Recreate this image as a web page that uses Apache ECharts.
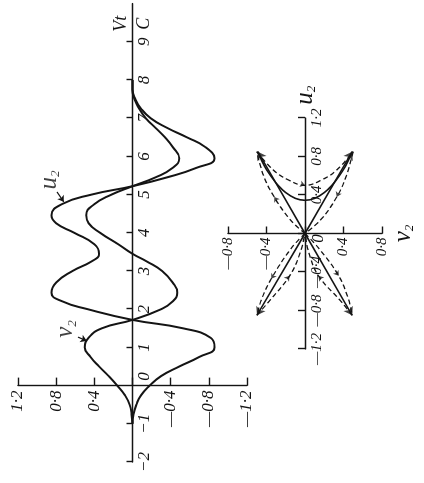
<!DOCTYPE html>
<html>
<head>
<meta charset="utf-8">
<script src="https://cdn.jsdelivr.net/npm/echarts@6/dist/echarts.min.js"></script>
<style>
  html, body { margin: 0; padding: 0; background: #fff; overflow: hidden; }
  #frame { position: absolute; left: 0; top: 0; width: 424px; height: 483px; overflow: hidden; background: #fff; }
  /* the figure is laid out landscape and turned a quarter turn counter-clockwise */
  #chart { position: absolute; left: 0; top: 0; width: 483px; height: 424px;
           transform-origin: 0 0; transform: translate(0, 483px) rotate(-90deg); }
</style>
</head>
<body>
<div id="frame"><div id="chart"></div></div>
<script>
// ---- time response: reduced time Vt/c and the two displacement components ----
const tValues  = [-1.0, -0.75, -0.5, -0.25, 0, 0.25, 0.5, 0.75, 1.0, 1.25, 1.5, 1.72, 2.0, 2.2, 2.43, 2.7, 3.0, 3.25, 3.45, 3.7, 4.0, 4.25, 4.46, 4.75, 5.0, 5.22, 5.45, 5.7, 5.95, 6.25, 6.5, 6.75, 7.0, 7.25, 7.5, 7.75, 8.0];
const u2Values = [0, -0.01, -0.04, -0.09, -0.18, -0.30, -0.49, -0.70, -0.86, -0.82, -0.53, 0, 0.47, 0.73, 0.85, 0.80, 0.63, 0.43, 0.35, 0.40, 0.61, 0.80, 0.85, 0.74, 0.43, 0, -0.36, -0.67, -0.86, -0.76, -0.57, -0.36, -0.19, -0.09, -0.03, 0, 0];
const v2Values = [0, 0.01, 0.03, 0.08, 0.16, 0.25, 0.35, 0.44, 0.50, 0.46, 0.32, 0, -0.30, -0.42, -0.47, -0.42, -0.31, -0.15, 0, 0.15, 0.34, 0.46, 0.485, 0.40, 0.22, 0, -0.24, -0.42, -0.49, -0.42, -0.34, -0.24, -0.14, -0.07, -0.02, 0, 0];

// tick marks and labels of the time axis
const tTicks  = [-2, -1, 1, 2, 3, 4, 5, 6, 7, 8, 9];
const tLabels = [-2, -1, 0, 1, 2, 3, 4, 5, 6, 7, 8, 9];

// ---- trajectory in the (v2, u2) plane, points given as [u2, v2] ----
const solidSpokes = [
  [[0, 0], [-0.85, 0.49]],
  [[0, 0], [0.85, -0.49]],
  [[0, 0], [0.85, 0.49]],
  [[0, 0], [-0.85, -0.50]]
];
const solidLoop = [[0.85, -0.49], [0.70, -0.42], [0.59, -0.35], [0.50, -0.28], [0.425, -0.20], [0.365, -0.10], [0.345, 0],
                   [0.365, 0.10], [0.425, 0.20], [0.50, 0.28], [0.59, 0.35], [0.70, 0.42], [0.85, 0.49]];
const dashedPaths = [
  [[0, 0], [0.15, -0.16], [0.38, -0.32], [0.60, -0.43], [0.85, -0.50]],
  [[0.85, -0.50], [0.66, -0.33], [0.56, -0.18], [0.50, 0], [0.56, 0.18], [0.66, 0.33], [0.85, 0.50]],
  [[0.85, 0.50], [0.60, 0.43], [0.38, 0.33], [0.15, 0.17], [0, 0]],
  [[0, 0], [-0.15, 0.14], [-0.44, 0.35], [-0.68, 0.45], [-0.85, 0.49]],
  [[-0.85, 0.49], [-0.70, 0.37], [-0.44, 0.14], [-0.20, 0.04], [0, 0]],
  [[0, 0], [-0.15, -0.14], [-0.47, -0.35], [-0.68, -0.45], [-0.85, -0.50]],
  [[-0.85, -0.50], [-0.70, -0.37], [-0.44, -0.16], [-0.20, -0.05], [0, 0]]
];

// curve names with their pointer arrows (time-axis data space)
const curveTags = [
  { letter: 'u', at: [5.38, 0.87], from: [5.07, 0.79], to: [4.81, 0.72] },
  { letter: 'v', at: [1.48, 0.70], from: [1.27, 0.57], to: [1.17, 0.48] }
];

// axis ranges
const tRange = [-2, 10], respRange = [-1.2, 1.2];
const phaseURange = [-1.2, 1.2], phaseVRange = [-0.8, 0.8];

const ink = '#141414';
const serif = '"Liberation Serif", "DejaVu Serif", serif';
const tickFont = { color: ink, fontFamily: serif, fontStyle: 'italic', fontSize: 17 };

// two plotting panels
const mainGrid  = { left: 21, top: 18, width: 458.4, height: 229 };
const phaseGrid = { left: 134, top: 228, width: 231, height: 154 };

// distance from the panel edge to the zero line of an axis range
const zeroFromStart = (range, size) => size * (0 - range[0]) / (range[1] - range[0]);

function decimal(v) {
  const s = Math.abs(v).toFixed(1).replace('.', '·');
  return v < -1e-9 ? '—' + s : s;
}
const subRich = {
  i: { fontFamily: serif, fontStyle: 'italic', fontSize: 25, color: ink },
  s: { fontFamily: serif, fontStyle: 'italic', fontSize: 13, color: ink, padding: [13, 0, 0, 0] }
};

const pairs = (xs, ys) => xs.map((x, i) => [x, ys[i]]);

// arrowhead orientation in the inset (equal px per unit on both axes, v axis pointing down)
function arrowAt(p, q, size) {
  const dx = p[0] - q[0];
  const dyScreen = p[1] - q[1];
  const ang = Math.atan2(-dyScreen, dx) * 180 / Math.PI;
  return { value: p, symbol: 'arrow', symbolSize: size, symbolRotate: ang - 90 };
}

const axisLineStyle = { color: ink, width: 1.4 };

const series = [
  {
    name: 'u2', type: 'line', xAxisIndex: 0, yAxisIndex: 0,
    data: pairs(tValues, u2Values), smooth: 0.5,
    symbol: 'none', lineStyle: { color: ink, width: 2 }, z: 5
  },
  {
    name: 'v2', type: 'line', xAxisIndex: 0, yAxisIndex: 0,
    data: pairs(tValues, v2Values), smooth: 0.5,
    symbol: 'none', lineStyle: { color: ink, width: 2 }, z: 5
  },
  {
    type: 'scatter', xAxisIndex: 0, yAxisIndex: 0, symbolSize: 0,
    data: curveTags.map(c => ({ value: c.at })),
    label: {
      show: true, position: 'inside',
      formatter: p => '{i|' + curveTags[p.dataIndex].letter + '}{s|2}',
      rich: subRich
    },
    silent: true
  },
  {
    type: 'lines', coordinateSystem: 'cartesian2d', xAxisIndex: 0, yAxisIndex: 0,
    data: curveTags.map(c => ({ coords: [c.from, c.to] })),
    symbol: ['none', 'arrow'], symbolSize: 6,
    lineStyle: { color: ink, width: 1.2, opacity: 1 }, silent: true
  }
];

solidSpokes.forEach(path => {
  series.push({
    type: 'line', xAxisIndex: 1, yAxisIndex: 1, data: path, symbol: 'none',
    lineStyle: { color: ink, width: 1.6 }, z: 4
  });
});
series.push({
  type: 'line', xAxisIndex: 1, yAxisIndex: 1, data: solidLoop, smooth: 0.4, symbol: 'none',
  lineStyle: { color: ink, width: 1.6 }, z: 4
});
series.push({
  type: 'scatter', xAxisIndex: 1, yAxisIndex: 1,
  data: solidSpokes.map(path => arrowAt(path[path.length - 1], path[path.length - 2], 8)),
  itemStyle: { color: ink }, silent: true, z: 6
});
dashedPaths.forEach(path => {
  series.push({
    type: 'line', xAxisIndex: 1, yAxisIndex: 1, data: path, smooth: 0.4, symbol: 'none',
    lineStyle: { color: ink, width: 1.3, type: [5, 3] }, z: 3
  });
});
series.push({
  type: 'scatter', xAxisIndex: 1, yAxisIndex: 1,
  data: dashedPaths.map(path => {
    const m = Math.floor(path.length / 2);
    return arrowAt(path[m], path[m - 1], 5);
  }),
  itemStyle: { color: ink }, silent: true, z: 6
});

const option = {
  animation: false,
  backgroundColor: '#fff',
  grid: [
    Object.assign({ outerBoundsMode: 'none' }, mainGrid),
    Object.assign({ outerBoundsMode: 'none' }, phaseGrid)
  ],
  xAxis: [
    {
      type: 'value', gridIndex: 0, min: tRange[0], max: tRange[1], position: 'bottom',
      offset: -(mainGrid.height - zeroFromStart(respRange, mainGrid.height)),
      axisLine: { onZero: false, lineStyle: axisLineStyle },
      axisTick: { inside: true, length: 6, customValues: tTicks, lineStyle: axisLineStyle },
      axisLabel: Object.assign({
        customValues: tLabels, margin: 4,
        formatter: v => v === 0 ? '{z|0}' : (v < 0 ? '−' + Math.abs(v) : String(v)),
        rich: { z: Object.assign({ padding: [0, 0, 0, 18] }, tickFont) }
      }, tickFont),
      splitLine: { show: false },
      name: '{a|Vt}\n{b|C}', nameLocation: 'end', nameGap: -23,
      nameTextStyle: {
        align: 'center', verticalAlign: 'middle',
        rich: {
          a: { fontFamily: serif, fontStyle: 'italic', fontSize: 18, color: ink, lineHeight: 23 },
          b: { fontFamily: serif, fontStyle: 'italic', fontSize: 18, color: ink, lineHeight: 23 }
        }
      }
    },
    {
      type: 'value', gridIndex: 1, min: phaseURange[0], max: phaseURange[1], interval: 0.4, position: 'bottom',
      offset: -zeroFromStart(phaseVRange, phaseGrid.height),
      axisLine: { onZero: false, lineStyle: axisLineStyle },
      axisTick: { inside: true, length: 7, lineStyle: axisLineStyle },
      axisLabel: Object.assign({
        margin: 5,
        formatter: v => Math.abs(v) < 1e-9 ? '{z|0}' : decimal(v),
        rich: { z: Object.assign({ padding: [0, 10, 0, 0] }, tickFont) }
      }, tickFont, { fontSize: 15 }),
      splitLine: { show: false },
      name: '{i|u}{s|2}', nameLocation: 'end', nameGap: 12,
      nameTextStyle: { rich: subRich }
    }
  ],
  yAxis: [
    {
      type: 'value', gridIndex: 0, min: respRange[0], max: respRange[1], interval: 0.4, position: 'left',
      offset: -zeroFromStart(tRange, mainGrid.width),
      axisLine: { onZero: false, lineStyle: axisLineStyle },
      axisTick: { inside: true, length: 8, lineStyle: axisLineStyle },
      axisLabel: Object.assign({
        margin: 5, formatter: v => Math.abs(v) < 1e-9 ? '' : decimal(v)
      }, tickFont),
      splitLine: { show: false }
    },
    {
      type: 'value', gridIndex: 1, min: phaseVRange[0], max: phaseVRange[1], interval: 0.4, inverse: true, position: 'left',
      offset: -zeroFromStart(phaseURange, phaseGrid.width),
      axisLine: { onZero: false, lineStyle: axisLineStyle },
      axisTick: { inside: true, length: 7, lineStyle: axisLineStyle },
      axisLabel: Object.assign({
        margin: 4, formatter: v => Math.abs(v) < 1e-9 ? '' : decimal(v)
      }, tickFont, { fontSize: 15 }),
      splitLine: { show: false },
      name: '{i|v}{s|2}', nameLocation: 'end', nameGap: 8,
      nameTextStyle: { rich: subRich }
    }
  ],
  series: series
};

const chart = echarts.init(document.getElementById('chart'), null, { renderer: 'canvas', width: 483, height: 424 });
chart.setOption(option);
</script>
</body>
</html>
